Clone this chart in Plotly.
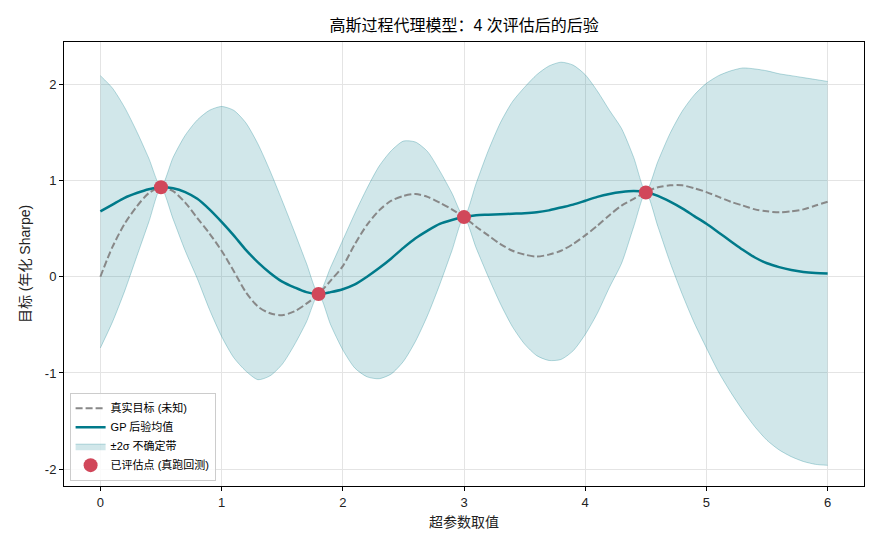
import plotly.graph_objects as go

# ---- data ----
x_grid = [round(i * 0.1, 1) for i in range(61)]

true_obj = [0.00, 0.31, 0.55, 0.73, 0.87, 0.93, 0.89, 0.77, 0.61, 0.45,
            0.27, 0.06, -0.16, -0.31, -0.38, -0.40, -0.36, -0.28, -0.18, -0.04,
            0.11, 0.34, 0.54, 0.69, 0.79, 0.84, 0.86, 0.83, 0.77, 0.70,
            0.62, 0.52, 0.43, 0.34, 0.27, 0.23, 0.21, 0.23, 0.27, 0.34,
            0.43, 0.53, 0.64, 0.74, 0.81, 0.88, 0.93, 0.95, 0.95, 0.92,
            0.88, 0.83, 0.78, 0.74, 0.70, 0.68, 0.67, 0.68, 0.70, 0.74,
            0.78]

gp_mean = [0.68, 0.75, 0.82, 0.87, 0.91, 0.93, 0.92, 0.88, 0.81, 0.70,
           0.57, 0.43, 0.28, 0.15, 0.04, -0.05, -0.11, -0.16, -0.18, -0.16,
           -0.13, -0.08, 0.00, 0.09, 0.19, 0.30, 0.40, 0.48, 0.55, 0.59,
           0.62, 0.64, 0.645, 0.65, 0.655, 0.66, 0.67, 0.69, 0.72, 0.75,
           0.79, 0.83, 0.86, 0.88, 0.89, 0.88, 0.84, 0.78, 0.71, 0.63,
           0.55, 0.46, 0.37, 0.28, 0.20, 0.14, 0.10, 0.07, 0.05, 0.04,
           0.035]

band_upper = [2.09, 1.96, 1.76, 1.51, 1.23, 0.93, 1.24, 1.47, 1.63, 1.73,
              1.77, 1.73, 1.60, 1.38, 1.10, 0.79, 0.47, 0.14, -0.18, 0.10,
              0.38, 0.66, 0.92, 1.15, 1.31, 1.41, 1.40, 1.30, 1.10, 0.87,
              0.62, 0.97, 1.31, 1.60, 1.82, 1.97, 2.10, 2.19, 2.23, 2.20,
              2.10, 1.93, 1.73, 1.54, 1.24, 0.88, 1.20, 1.49, 1.72, 1.89,
              2.01, 2.09, 2.14, 2.17, 2.16, 2.14, 2.11, 2.09, 2.07, 2.05,
              2.03]

band_lower = [-0.74, -0.47, -0.15, 0.21, 0.57, 0.93, 0.60, 0.27, -0.02, -0.34,
              -0.62, -0.84, -0.98, -1.07, -1.03, -0.91, -0.71, -0.47, -0.18, -0.50,
              -0.76, -0.95, -1.04, -1.06, -1.01, -0.88, -0.67, -0.40, -0.08, 0.27,
              0.62, 0.30, 0.00, -0.28, -0.52, -0.70, -0.82, -0.87, -0.86, -0.77,
              -0.60, -0.38, -0.11, 0.14, 0.52, 0.88, 0.52, 0.15, -0.18, -0.48,
              -0.74, -0.99, -1.20, -1.39, -1.56, -1.70, -1.80, -1.87, -1.92, -1.95,
              -1.96]

obs_x = [0.5, 1.8, 3.0, 4.5]
obs_y = [0.93, -0.18, 0.62, 0.875]

x_ticks = [0, 1, 2, 3, 4, 5, 6]
y_ticks = [-2, -1, 0, 1, 2]
y_tick_text = ["-2", "-1", "0", "1", "2"]

label_true = "真实目标 (未知)"
label_mean = "GP 后验均值"
label_band = "±2σ 不确定带"
label_obs = "已评估点 (真跑回测)"

TEAL = "#007a8a"
FONT = "Arial, Liberation Sans, Noto Sans CJK SC, sans-serif"

fig = go.Figure()

band_line = dict(color="rgba(0,122,138,0.28)", width=1, shape="spline", smoothing=0.7)
fig.add_trace(go.Scatter(
    x=x_grid, y=band_lower, mode="lines", line=band_line,
    showlegend=False, hoverinfo="skip"))
fig.add_trace(go.Scatter(
    x=x_grid, y=band_upper, mode="lines", fill="tonexty",
    fillcolor="rgba(0,122,138,0.18)", line=band_line,
    name=label_band, legendrank=3))
fig.add_trace(go.Scatter(
    x=x_grid, y=true_obj, mode="lines",
    line=dict(color="#888888", width=2, dash="7px,3px", shape="spline", smoothing=0.8),
    name=label_true, legendrank=1))
fig.add_trace(go.Scatter(
    x=x_grid, y=gp_mean, mode="lines",
    line=dict(color=TEAL, width=2.5, shape="spline", smoothing=0.8),
    name=label_mean, legendrank=2))
fig.add_trace(go.Scatter(
    x=obs_x, y=obs_y, mode="markers",
    marker=dict(color="#d1475a", size=14, line=dict(width=0)),
    name=label_obs, legendrank=4))

axis_common = dict(
    showline=True, linecolor="black", linewidth=1, mirror=True,
    ticks="outside", ticklen=4, tickcolor="black", tickwidth=1,
    showgrid=True, gridcolor="#e4e4e4", gridwidth=1,
    zeroline=False, tickfont=dict(size=13, color="#222222"),
)

fig.update_layout(
    width=880, height=550,
    margin=dict(l=64, r=16, t=42, b=64),
    paper_bgcolor="white", plot_bgcolor="white",
    font=dict(family=FONT, color="#222222"),
    title=dict(text="高斯过程代理模型：4 次评估后的后验", x=0.5275, xanchor="center",
               y=0.953, yanchor="middle", font=dict(size=16, color="black")),
    xaxis=dict(range=[-0.3, 6.3], tickvals=x_ticks,
               title=dict(text="超参数取值", font=dict(size=14), standoff=8), **axis_common),
    yaxis=dict(range=[-2.175, 2.44], tickvals=y_ticks, ticktext=y_tick_text,
               title=dict(text="目标 (年化 Sharpe)", font=dict(size=14), standoff=10), **axis_common),
    legend=dict(x=0.007, y=0.012, xanchor="left", yanchor="bottom",
                bgcolor="rgba(255,255,255,0.85)", bordercolor="#cccccc", borderwidth=1,
                font=dict(size=11, color="black"), traceorder="normal",
                itemwidth=30, tracegroupgap=0),
    showlegend=True,
)

fig.write_html("out.html")
